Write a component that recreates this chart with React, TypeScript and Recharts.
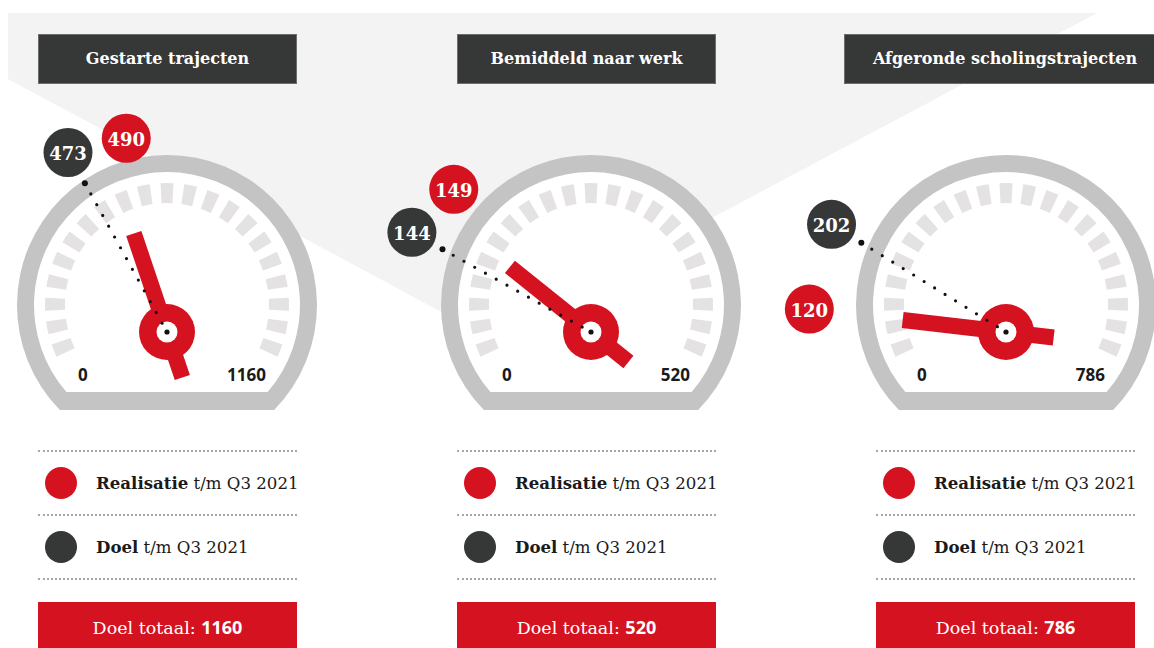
import React from 'react';
import { Customized, Pie, PieChart } from 'recharts';

// Per gauge: title, realisation t/m Q3 2021, target t/m Q3 2021, total target
const titles = ['Gestarte trajecten', 'Bemiddeld naar werk', 'Afgeronde scholingstrajecten'];
const realisatie = [490, 149, 120];
const doel = [473, 144, 202];
const doelTotaal = [1160, 520, 786];
const scaleMin = 0;

const legendLabels = [
  { bold: 'Realisatie', rest: ' t/m Q3 2021', color: 'red' },
  { bold: 'Doel', rest: ' t/m Q3 2021', color: 'dark' },
];

const RED = '#d5121f';
const DARK = '#363838';
const FRAME = '#c4c4c4';
const TICK = '#e4e2e3';
const SERIF = '"DejaVu Serif", serif';
const SANS = '"Open Sans", "DejaVu Sans", sans-serif';

// layout
const gaugeCenters = [167, 591, 1006];
const titleBoxes = [
  { left: 38, width: 259 },
  { left: 457, width: 259 },
  { left: 844, width: 322 },
];
const columnLefts = [38, 457, 876];

const W = 480;
const H = 430;
const CX = 240;
const RING_CY = 305;
const PIVOT_CY = 332;
const START_ANGLE = 210;
const END_ANGLE = -30;
const MIN_LABEL_GAP = 17;

const tickData = Array.from({ length: 21 }, (_, i) => ({ id: i, value: 1 }));

function polar(cx: number, cy: number, r: number, deg: number) {
  const a = (deg * Math.PI) / 180;
  return { x: cx + r * Math.cos(a), y: cy - r * Math.sin(a) };
}

// same proportion the Pie uses, only needed to push the two bubbles apart
function angleOf(value: number, max: number) {
  return START_ANGLE + ((END_ANGLE - START_ANGLE) * (value - scaleMin)) / (max - scaleMin);
}

function labelOffsets(real: number, target: number, max: number) {
  const a = angleOf(real, max);
  const b = angleOf(target, max);
  const diff = b - a;
  if (Math.abs(diff) >= MIN_LABEL_GAP) return [0, 0];
  const s = diff >= 0 ? 1 : -1;
  const push = (MIN_LABEL_GAP - Math.abs(diff)) / 2;
  return [-s * push, s * push];
}

function Frame({ max }: { max: number }) {
  const oy = RING_CY + 105;
  const odx = Math.sqrt(150 * 150 - 105 * 105);
  const iy = RING_CY + 87;
  const idx = Math.sqrt(133 * 133 - 87 * 87);
  return (
    <g>
      <path d={`M ${CX - odx} ${oy} A 150 150 0 1 1 ${CX + odx} ${oy} Z`} fill={FRAME} />
      <path d={`M ${CX - idx} ${iy} A 133 133 0 1 1 ${CX + idx} ${iy} Z`} fill="#fff" />
      <text x={CX - 89} y={RING_CY + 69} fontFamily={SANS} fontWeight={700} fontSize={17} fill="#1a1a1a" dominantBaseline="central">
        {scaleMin}
      </text>
      <text x={CX + 99} y={RING_CY + 69} fontFamily={SANS} fontWeight={700} fontSize={17} fill="#1a1a1a" textAnchor="end" dominantBaseline="central">
        {max}
      </text>
    </g>
  );
}

function Bubble({ x, y, fill, value }: { x: number; y: number; fill: string; value: number }) {
  return (
    <g>
      <circle cx={x} cy={y} r={24.5} fill={fill} />
      <text x={x} y={y + 1} fill="#fff" fontFamily={SERIF} fontWeight={700} fontSize={18} textAnchor="middle" dominantBaseline="central">
        {value}
      </text>
    </g>
  );
}

const renderNeedle = (offset: number) => (props: any) => {
  if (props.index !== 0) return null;
  const { cx, cy, endAngle, value } = props;
  const a = (endAngle * Math.PI) / 180;
  const dx = Math.cos(a);
  const dy = -Math.sin(a);
  const nx = -dy * 8;
  const ny = dx * 8;
  const tip = { x: cx + dx * 104, y: cy + dy * 104 };
  const tail = { x: cx - dx * 48, y: cy - dy * 48 };
  const pts = [
    [tail.x + nx, tail.y + ny],
    [tip.x + nx, tip.y + ny],
    [tip.x - nx, tip.y - ny],
    [tail.x - nx, tail.y - ny],
  ]
    .map((p) => p.join(','))
    .join(' ');
  const bubble = polar(cx, cy, 198, endAngle + offset);
  return (
    <g>
      <polygon points={pts} fill={RED} />
      <circle cx={cx} cy={cy} r={28} fill={RED} />
      <circle cx={cx} cy={cy} r={10.5} fill="#fff" />
      <Bubble x={bubble.x} y={bubble.y} fill={RED} value={value} />
    </g>
  );
};

const renderTarget = (offset: number) => (props: any) => {
  if (props.index !== 0) return null;
  const { cx, cy, endAngle, value } = props;
  const ang = endAngle + offset;
  const end = polar(cx, cy, 170, ang);
  const bubble = polar(cx, cy, 205, ang);
  return (
    <g>
      <line
        x1={end.x}
        y1={end.y}
        x2={cx}
        y2={cy}
        stroke="#111"
        strokeWidth={3.2}
        strokeLinecap="round"
        strokeDasharray="0 12.3"
      />
      <circle cx={end.x} cy={end.y} r={3} fill="#111" />
      <circle cx={cx} cy={cy} r={2.6} fill="#111" />
      <Bubble x={bubble.x} y={bubble.y} fill={DARK} value={value} />
    </g>
  );
};

function Gauge({ i }: { i: number }) {
  const max = doelTotaal[i];
  const real = realisatie[i];
  const target = doel[i];
  const [realOffset, targetOffset] = labelOffsets(real, target, max);
  const needleData = [
    { name: 'Realisatie', value: real },
    { name: 'rest', value: max - real },
  ];
  const targetData = [
    { name: 'Doel', value: target },
    { name: 'rest', value: max - target },
  ];

  return (
    <div style={{ position: 'absolute', left: gaugeCenters[i] - CX, top: 0, width: W, height: H }}>
      <PieChart width={W} height={H} margin={{ top: 0, right: 0, bottom: 0, left: 0 }}>
        <Customized component={<Frame max={max} />} />
        <Pie
          data={tickData}
          dataKey="value"
          cx={CX}
          cy={RING_CY}
          innerRadius={102}
          outerRadius={122}
          startAngle={205.05}
          endAngle={-25.05}
          paddingAngle={5.1}
          fill={TICK}
          stroke="none"
          isAnimationActive={false}
        />
        <Pie
          data={needleData}
          dataKey="value"
          cx={CX}
          cy={PIVOT_CY}
          innerRadius={0}
          outerRadius={100}
          startAngle={START_ANGLE}
          endAngle={END_ANGLE}
          fill="none"
          stroke="none"
          label={renderNeedle(realOffset)}
          labelLine={false}
          isAnimationActive={false}
        />
        <Pie
          data={targetData}
          dataKey="value"
          cx={CX}
          cy={PIVOT_CY}
          innerRadius={0}
          outerRadius={100}
          startAngle={START_ANGLE}
          endAngle={END_ANGLE}
          fill="none"
          stroke="none"
          label={renderTarget(targetOffset)}
          labelLine={false}
          isAnimationActive={false}
        />
      </PieChart>
    </div>
  );
}

function Column({ i }: { i: number }) {
  const left = columnLefts[i];
  const sep = (top: number) => (
    <div style={{ position: 'absolute', left, top, width: 259, borderTop: '2px dotted #a3a8ad' }} />
  );
  return (
    <>
      {sep(450)}
      {sep(514)}
      {sep(578)}
      {legendLabels.map((l, k) => (
        <div key={l.bold} style={{ position: 'absolute', left, top: 467 + k * 64, height: 32, display: 'flex', alignItems: 'center' }}>
          <div style={{ width: 32, height: 32, borderRadius: 16, background: l.color === 'red' ? RED : DARK, marginLeft: 7 }} />
          <div style={{ marginLeft: 19, fontFamily: SERIF, fontSize: 16.6, color: '#1a1a1a', whiteSpace: 'nowrap' }}>
            <b>{l.bold}</b>
            {l.rest}
          </div>
        </div>
      ))}
      <div
        style={{
          position: 'absolute',
          left,
          top: 602,
          width: 259,
          height: 60,
          background: RED,
          color: '#fff',
          textAlign: 'center',
          lineHeight: '50px',
          fontFamily: SERIF,
          fontSize: 17.5,
        }}
      >
        Doel totaal: <span style={{ fontFamily: SANS, fontWeight: 700, fontSize: 18 }}>{doelTotaal[i]}</span>
      </div>
    </>
  );
}

export default function App() {
  return (
    <div style={{ position: 'absolute', left: 0, top: 0, width: 1154, height: 648, overflow: 'hidden', background: '#fff' }}>
      <svg width={1154} height={648} style={{ position: 'absolute', left: 0, top: 0 }}>
        <polygon points="8,13 1097,13 488,337 8,79" fill="#f3f3f3" />
      </svg>
      {titles.map((t, i) => (
        <div
          key={t}
          style={{
            position: 'absolute',
            left: titleBoxes[i].left,
            top: 34,
            width: titleBoxes[i].width,
            height: 50,
            boxSizing: 'border-box',
            background: DARK,
            border: '1px solid #6c6c6c',
            color: '#fff',
            fontFamily: SERIF,
            fontWeight: 700,
            fontSize: 16,
            lineHeight: '48px',
            textAlign: 'center',
            whiteSpace: 'nowrap',
          }}
        >
          {t}
        </div>
      ))}
      {titles.map((t, i) => (
        <Gauge key={t} i={i} />
      ))}
      {titles.map((t, i) => (
        <Column key={t} i={i} />
      ))}
    </div>
  );
}
